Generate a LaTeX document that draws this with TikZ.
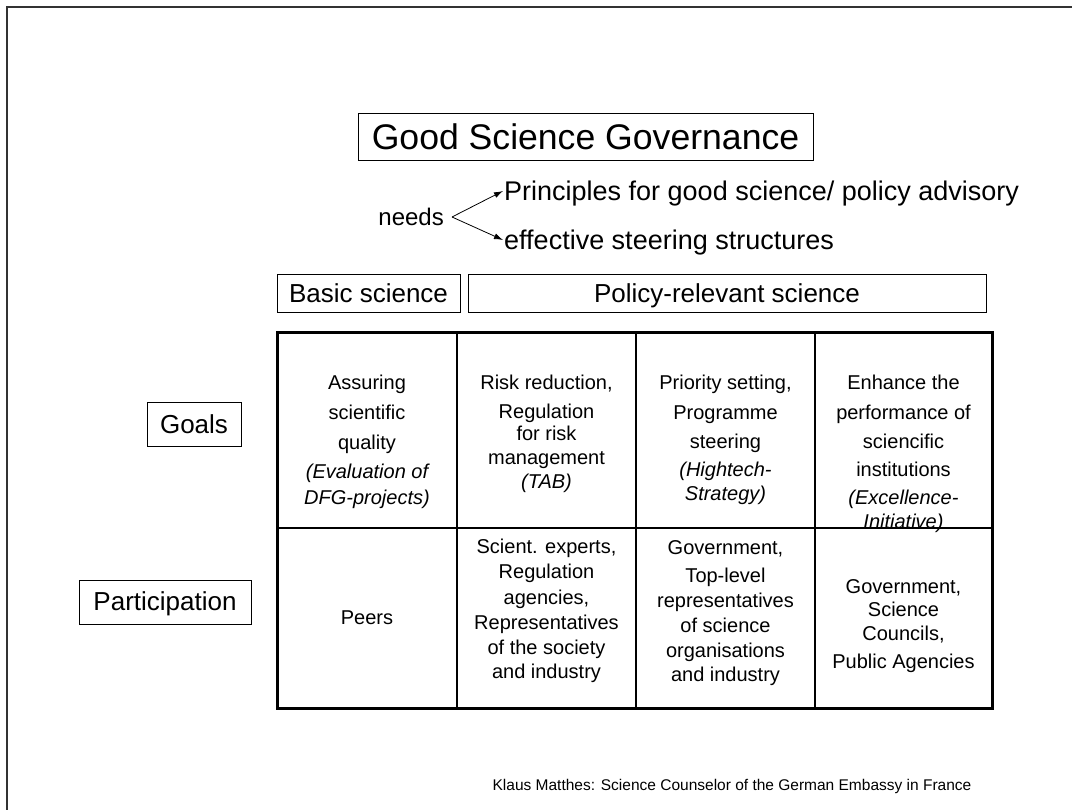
\documentclass[tikz,border=0pt]{standalone}
\usepackage{fontspec}
\setmainfont{Liberation Sans}
\usetikzlibrary{arrows.meta}
\begin{document}
\begin{tikzpicture}[x=1pt,y=-1pt,
  box/.style={draw, line width=1pt, inner sep=0pt},
  big/.style={font=\fontsize{26}{31}\selectfont, text height=17.8pt, text depth=0pt},
  lead/.style={font=\fontsize{27}{32}\selectfont, text height=18.4pt, text depth=0pt},
  cell/.style={inner sep=0pt, text height=13.6pt, text depth=0pt, font=\fontsize{20}{24}\selectfont},
  arr/.style={line width=0.8pt, -{Latex[length=9pt,width=6pt]}},
  grid/.style={line width=1.2pt},
  frame/.style={line width=1.6pt, black!80}]
\useasboundingbox (0,0) rectangle (1072,810);
% page frame
\draw[frame] (7,810) -- (7,7) -- (1072,7);
% title
\node[box, minimum width=455pt, minimum height=47pt, font=\fontsize{35.6}{42}\selectfont, text height=24.3pt, text depth=0pt] (title) at (585.5,137) {Good Science Governance};
% needs
\node[font=\fontsize{24}{29}\selectfont, text height=16.4pt, text depth=0pt, anchor=east, inner sep=0pt] (needs) at (444,217) {needs};
\node[lead, anchor=west, inner sep=1pt] (pr) at (503,191) {Principles for good science/ policy advisory};
\node[lead, anchor=west, inner sep=1pt] (ef) at (503,240) {effective steering structures};
\coordinate (v) at ([xshift=8pt]needs.east);
\draw[arr] (v) -- (pr.west);
\draw[arr] (v) -- (ef.west);
% category boxes
\node[box, big, minimum width=183pt, minimum height=38pt] (basic) at (368.5,294) {Basic science};
\node[box, big, minimum width=518pt, minimum height=38pt] (policy) at (727,294) {Policy-relevant science};
\node[box, big, minimum width=94pt, minimum height=44pt] (goals) at (194,425) {Goals};
\node[box, big, minimum width=172pt, minimum height=44pt] (part) at (165,602) {Participation};
% table
\draw[grid] (457,333) -- (457,708);
\draw[grid] (636,333) -- (636,708);
\draw[grid] (815,333) -- (815,708);
\draw[grid] (277,528) -- (992,528);
\draw[line width=3pt] (277,333) rectangle (992,708);
% goals row
\foreach \t/\y [count=\i] in {Assuring/383, scientific/413, quality/443, {\itshape(Evaluation of}/472, {\itshape DFG-projects)}/498}
  \node[cell] (ga\i) at (367,\y) {\t};
\foreach \t/\y [count=\i] in {{Risk reduction,}/383, Regulation/412, for risk/434, management/458, {\itshape(TAB)}/482}
  \node[cell] (gb\i) at (546.5,\y) {\t};
\foreach \t/\y [count=\i] in {{Priority setting,}/383, Programme/413, steering/442, {\itshape(Hightech-}/470, {\itshape Strategy)}/494}
  \node[cell] (gc\i) at (725.5,\y) {\t};
\foreach \t/\y [count=\i] in {Enhance the/383, performance of/413, sciencific/442, institutions/470, {\itshape(Excellence-}/498, {\itshape Initiative)}/522}
  \node[cell] (gd\i) at (903.5,\y) {\t};
% participation row
\node[cell] (pa1) at (367,618) {Peers};
\foreach \t/\y [count=\i] in {{Scient. experts,}/547, Regulation/572, {agencies,}/598, Representatives/623, of the society/648, and industry/672}
  \node[cell] (pb\i) at (546.5,\y) {\t};
\foreach \t/\y [count=\i] in {{Government,}/548, Top-level/576, representatives/601, of science/626, organisations/651, and industry/675}
  \node[cell] (pc\i) at (725.5,\y) {\t};
\foreach \t/\y [count=\i] in {{Government,}/587, Science/610, {Councils,}/634, Public Agencies/662}
  \node[cell] (pd\i) at (903.5,\y) {\t};
% footer
\node[inner sep=0pt, font=\fontsize{15.5}{18}\selectfont, text height=10.6pt, text depth=0pt] (foot) at (732,785) {Klaus Matthes: Science Counselor of the German Embassy in France};
\end{tikzpicture}
\end{document}
